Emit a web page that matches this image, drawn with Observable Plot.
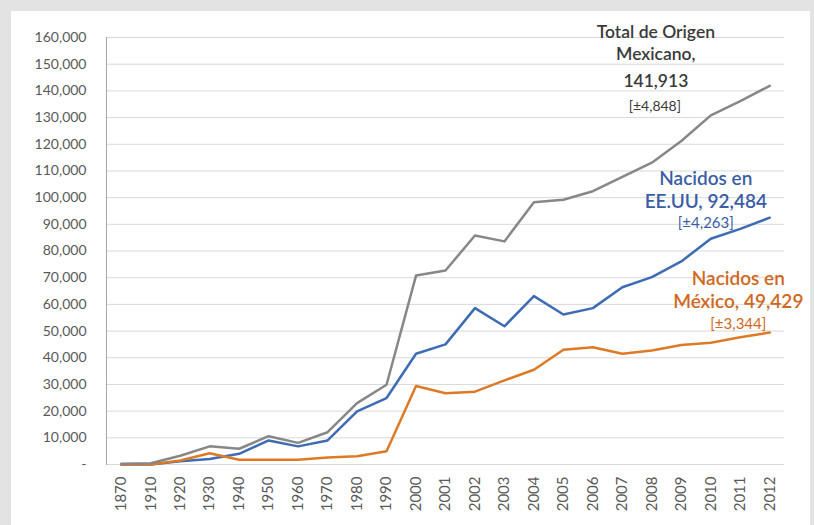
<!DOCTYPE html>
<html>
<head>
<meta charset="utf-8">
<script src="https://cdn.jsdelivr.net/npm/d3@7"></script>
<script src="https://cdn.jsdelivr.net/npm/@observablehq/plot@0.6"></script>
<style>
  html, body { margin: 0; padding: 0; background: #e3e3e3; width: 814px; height: 525px; overflow: hidden; }
  #panel { position: absolute; left: 11px; top: 11px; width: 799px; height: 514px; background: #ffffff; }
</style>
</head>
<body>
<div id="panel"></div>
<script>
const years = ["1870","1910","1920","1930","1940","1950","1960","1970","1980","1990","2000","2001","2002","2003","2004","2005","2006","2007","2008","2009","2010","2011","2012"];
const totalOrigen = [300, 500, 3300, 6800, 5900, 10600, 8100, 12100, 23000, 29900, 70800, 72700, 85800, 83600, 98300, 99200, 102400, 107800, 113100, 121200, 130800, 136200, 141913];
const nacidosEEUU = [0, 0, 1250, 2100, 4000, 9000, 6800, 9000, 19900, 24900, 41500, 45000, 58600, 51800, 63100, 56200, 58600, 66400, 70200, 76100, 84600, 88300, 92484];
const nacidosMexico = [0, 0, 1500, 4200, 1800, 1800, 1800, 2600, 3100, 5000, 29400, 26700, 27300, 31500, 35500, 43000, 43900, 41500, 42700, 44800, 45600, 47700, 49429];
const yTicks = [0, 10000, 20000, 30000, 40000, 50000, 60000, 70000, 80000, 90000, 100000, 110000, 120000, 130000, 140000, 150000, 160000];

const toRows = (vals) => years.map((y, i) => ({year: y, value: vals[i]}));

const labelsTotal = [
  {x: "2008", y: 162000, t: "Total de Origen"},
  {x: "2008", y: 153800, t: "Mexicano,"},
  {x: "2008", y: 143600, t: "141,913"}
];
const bracketTotal = [{x: "2008", y: 134300, t: "[±4,848]"}];
const labelsEEUU = [
  {x: "2010", y: 107000, t: "Nacidos en"},
  {x: "2010", y: 98300, t: "EE.UU, 92,484"}
];
const bracketEEUU = [{x: "2010", y: 90300, t: "[±4,263]"}];
const labelsMexico = [
  {x: "2011", y: 69600, t: "Nacidos en"},
  {x: "2011", y: 60800, t: "México, 49,429"}
];
const bracketMexico = [{x: "2011", y: 52700, t: "[±3,344]"}];

const fmt = d3.format(",");
const font = "Lato, 'Open Sans', sans-serif";

const chart = Plot.plot({
  width: 799,
  height: 514,
  marginTop: 26,
  marginBottom: 61,
  marginLeft: 95,
  marginRight: 26,
  style: {fontFamily: font, background: "transparent", overflow: "visible"},
  x: {type: "point", domain: years, padding: 0.5, round: false, label: null},
  y: {domain: [0, 160000], label: null},
  marks: [
    Plot.ruleY(yTicks, {stroke: "#d9d9d9", strokeWidth: 1}),
    Plot.frame({anchor: "left", stroke: "#a6a6a6"}),
    Plot.axisY({ticks: yTicks, tickSize: 0, tickPadding: 20, tickFormat: d => d === 0 ? "-" : fmt(d), fontSize: 14, fill: "#595959", label: null}),
    Plot.axisX({tickSize: 0, tickRotate: -90, tickPadding: 12, fontSize: 15, fill: "#595959", label: null}),
    Plot.line(toRows(nacidosEEUU), {x: "year", y: "value", stroke: "#3d6cb5", strokeWidth: 2.5}),
    Plot.line(toRows(nacidosMexico), {x: "year", y: "value", stroke: "#de7a26", strokeWidth: 2.5}),
    Plot.line(toRows(totalOrigen), {x: "year", y: "value", stroke: "#878787", strokeWidth: 2.5}),
    Plot.text(labelsTotal, {x: "x", y: "y", text: "t", dx: 4, fontSize: 17.5, fill: "#3a3a3a", fontWeight: 600}),
    Plot.text(bracketTotal, {x: "x", y: "y", text: "t", dx: 3, fontSize: 14, fill: "#3a3a3a"}),
    Plot.text(labelsEEUU, {x: "x", y: "y", text: "t", dx: -5, fontSize: 19, fill: "#3b5da6", fontWeight: 600}),
    Plot.text(bracketEEUU, {x: "x", y: "y", text: "t", dx: -5, fontSize: 15, fill: "#3b5da6"}),
    Plot.text(labelsMexico, {x: "x", y: "y", text: "t", dx: -2, fontSize: 19, fill: "#d0681e", fontWeight: 600}),
    Plot.text(bracketMexico, {x: "x", y: "y", text: "t", dx: -2, fontSize: 15, fill: "#d0681e"})
  ]
});
document.getElementById("panel").appendChild(chart);
</script>
</body>
</html>
